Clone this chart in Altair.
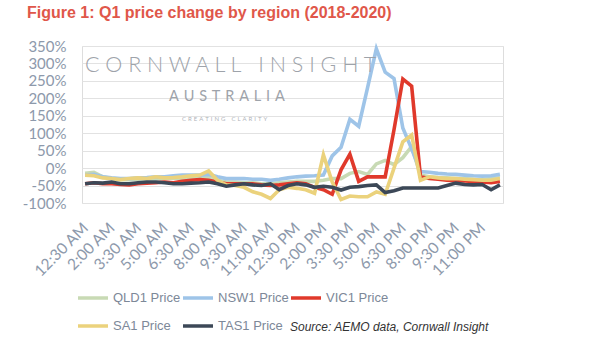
import altair as alt
import pandas as pd

times = ["12:30 AM", "1:00 AM", "1:30 AM", "2:00 AM", "2:30 AM", "3:00 AM", "3:30 AM", "4:00 AM",
         "4:30 AM", "5:00 AM", "5:30 AM", "6:00 AM", "6:30 AM", "7:00 AM", "7:30 AM", "8:00 AM",
         "8:30 AM", "9:00 AM", "9:30 AM", "10:00 AM", "10:30 AM", "11:00 AM", "11:30 AM", "12:00 PM",
         "12:30 PM", "1:00 PM", "1:30 PM", "2:00 PM", "2:30 PM", "3:00 PM", "3:30 PM", "4:00 PM",
         "4:30 PM", "5:00 PM", "5:30 PM", "6:00 PM", "6:30 PM", "7:00 PM", "7:30 PM", "8:00 PM",
         "8:30 PM", "9:00 PM", "9:30 PM", "10:00 PM", "10:30 PM", "11:00 PM", "11:30 PM", "12:00 AM"]

tick_labels = ["12:30 AM", "2:00 AM", "3:30 AM", "5:00 AM", "6:30 AM", "8:00 AM", "9:30 AM", "11:00 AM",
               "12:30 PM", "2:00 PM", "3:30 PM", "5:00 PM", "6:30 PM", "8:00 PM", "9:30 PM", "11:00 PM"]

y_ticks = [-100, -50, 0, 50, 100, 150, 200, 250, 300, 350]

series = ["QLD1 Price", "NSW1 Price", "VIC1 Price", "SA1 Price", "TAS1 Price"]
colors = ["#c8dab4", "#9ec4e8", "#e0392b", "#ebd27c", "#3c4857"]
# legend is filled column by column (2 rows): this order gives rows QLD/NSW/VIC and SA/TAS
legend_order = ["QLD1 Price", "SA1 Price", "NSW1 Price", "TAS1 Price", "VIC1 Price"]

qld = [-15, -12, -25, -30, -33, -33, -32, -30, -30, -30, -28, -30, -28, -27, -25, -35,
       -40, -40, -42, -42, -45, -45, -42, -40, -38, -38, -38, -35, -30, -30, -15, -10,
       -18, 12, 22, 10, 30, 62, -20, -25, -27, -28, -30, -30, -32, -33, -30, -28]
nsw = [-20, -18, -25, -28, -30, -30, -28, -27, -25, -25, -22, -20, -20, -20, -18, -25,
       -30, -30, -30, -32, -32, -35, -32, -28, -25, -23, -22, -20, 35, 60, 140, 120,
       230, 342, 275, 257, 115, 55, -10, -12, -15, -17, -18, -20, -22, -23, -22, -18]
vic = [-45, -42, -45, -45, -47, -48, -45, -43, -42, -40, -42, -38, -35, -33, -35, -40,
       -45, -45, -45, -45, -48, -50, -48, -45, -42, -45, -55, -62, -75, -5, 40, -38,
       -25, -25, -25, 110, 255, 235, -25, -30, -32, -35, -36, -37, -38, -40, -42, -38]
sa = [-20, -22, -28, -30, -33, -30, -28, -30, -25, -28, -27, -25, -22, -20, -8, -35,
      -48, -50, -55, -68, -75, -87, -62, -55, -58, -62, -72, 38, -40, -90, -80, -82,
      -82, -68, -75, 0, 75, 95, -35, -25, -28, -30, -30, -32, -33, -35, -35, -30]
tas = [-45, -42, -43, -40, -45, -45, -42, -40, -40, -42, -45, -45, -43, -42, -40, -45,
       -52, -48, -45, -48, -50, -45, -62, -50, -45, -48, -55, -52, -55, -63, -55, -53,
       -50, -48, -70, -65, -57, -57, -57, -57, -57, -50, -43, -47, -48, -47, -62, -48]

title_text = "Figure 1: Q1 price change by region (2018-2020)"
source_text = "Source: AEMO data, Cornwall Insight"
NB = "\u00a0"
wm_main = NB.join("CORNWALL") + NB * 3 + NB.join("INSIGHT")
wm_sub = "\u2004".join("AUSTRALIA")
wm_tag = "\u2004".join("CREATING") + "\u2004\u2004\u2004" + "\u2004".join("CLARITY")

rows = []
for name, vals in zip(series, [qld, nsw, vic, sa, tas]):
    for t, v in zip(times, vals):
        rows.append({"time": t, "value": v, "series": name})
df = pd.DataFrame(rows)

axis_color = "#8d99ab"

lines = alt.Chart(df).mark_line(strokeWidth=3.6).encode(
    x=alt.X("time:N", sort=times, title=None,
            scale=alt.Scale(type="point", padding=0.35),
            axis=alt.Axis(values=tick_labels, labelAngle=-45, labelAlign="right",
                          labelBaseline="middle", labelPadding=22, ticks=False, domain=False,
                          grid=False, labelFont="Lato", labelFontSize=15.5, labelColor=axis_color)),
    y=alt.Y("value:Q", title=None,
            scale=alt.Scale(domain=[-100, 350], nice=False, zero=False),
            axis=alt.Axis(values=y_ticks, labelExpr="datum.value + '%'", ticks=False, domain=False,
                          grid=True, gridColor="#e2e2e2", gridWidth=1, labelFont="Lato",
                          labelFontSize=15, labelColor=axis_color, labelPadding=16)),
    color=alt.Color("series:N", sort=legend_order,
                    scale=alt.Scale(domain=legend_order,
                                    range=[colors[series.index(s)] for s in legend_order]),
                    legend=alt.Legend(title=None, orient="none", legendX=-6, legendY=235,
                                      columns=3, symbolType="stroke", symbolSize=900,
                                      symbolStrokeWidth=3.5, labelFont="Liberation Sans",
                                      labelFontSize=13, labelColor="#7d8898", labelOffset=3,
                                      columnPadding=-6, rowPadding=4)),
)

wm1 = alt.Chart(pd.DataFrame({"t": [wm_main]})).mark_text(
    font="Lato", fontSize=21.5, fontWeight=300, color="#9ea3aa", align="left", baseline="alphabetic"
).encode(text="t:N", x=alt.value(3), y=alt.value(26))

wm2 = alt.Chart(pd.DataFrame({"t": [wm_sub]})).mark_text(
    font="Lato", fontSize=14.5, fontWeight=400, color="#9ea3aa", align="left", baseline="alphabetic"
).encode(text="t:N", x=alt.value(87), y=alt.value(55))

wm3 = alt.Chart(pd.DataFrame({"t": [wm_tag]})).mark_text(
    font="Lato", fontSize=6, fontWeight=400, color="#b0b4ba", align="left", baseline="alphabetic"
).encode(text="t:N", x=alt.value(100), y=alt.value(75))

src = alt.Chart(pd.DataFrame({"t": [source_text]})).mark_text(
    font="Liberation Sans", fontSize=12, fontStyle="italic", color="#333333",
    align="left", baseline="middle"
).encode(text="t:N", x=alt.value(208), y=alt.value(281))

chart = alt.layer(lines, wm1, wm2, wm3, src).properties(
    width=421, height=157,
    autosize=alt.AutoSizeParams(type="none"),
    padding={"left": 82, "top": 46, "right": 97, "bottom": 151},
    title=alt.TitleParams(title_text, anchor="start", frame="group", dx=-55, offset=18,
                          font="Liberation Sans", fontSize=16, fontWeight="bold",
                          color="#e0574a"),
).configure_view(stroke=None).configure(background="white")

chart.save("out.html", embed_options={"renderer": "svg", "actions": False})
